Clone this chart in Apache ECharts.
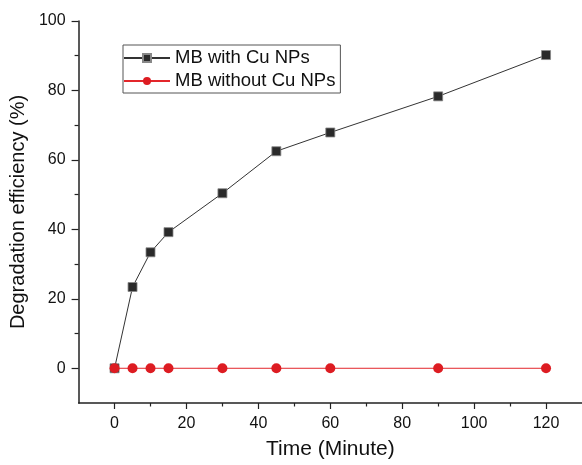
<!DOCTYPE html>
<html>
<head>
<meta charset="utf-8">
<script src="https://cdn.jsdelivr.net/npm/echarts@6/dist/echarts.min.js"></script>
<style>
  html, body { margin: 0; padding: 0; background: #fff; }
  #chart { width: 582px; height: 465px; }
</style>
</head>
<body>
<div id="chart"></div>
<script>
// Reaction time in minutes
const timeMinutes = [0, 5, 10, 15, 30, 45, 60, 90, 120];
// Degradation efficiency (%) of methylene blue
const withCuNPs = [0, 23.4, 33.4, 39.2, 50.4, 62.5, 67.9, 78.3, 90.2];
const withoutCuNPs = [0, 0, 0, 0, 0, 0, 0, 0, 0];

const seriesNames = ['MB with Cu NPs', 'MB without Cu NPs'];

// Axis ticks: labelled majors and unlabelled minors
const xMajorTicks = [0, 20, 40, 60, 80, 100, 120];
const xMinorTicks = [10, 30, 50, 70, 90, 110];
const yMajorTicks = [0, 20, 40, 60, 80, 100];
const yMinorTicks = [10, 30, 50, 70, 90];

const font = 'Arial, "Liberation Sans", sans-serif';
const axisColor = '#222';

const pairs = (xs, ys) => xs.map((x, i) => [x, ys[i]]);

const chart = echarts.init(document.getElementById('chart'), null, { renderer: 'canvas' });

const xBase = { type: 'value', min: -10, max: 130, gridIndex: 0, splitLine: { show: false } };
const yBase = { type: 'value', min: -10, max: 100, gridIndex: 0, splitLine: { show: false } };

chart.setOption({
  animation: false,
  backgroundColor: '#fff',
  grid: { left: 76, right: -1, top: 21, bottom: 59, containLabel: false },
  legend: {
    orient: 'vertical',
    left: 123,
    top: 45,
    padding: [3, 5, 2, 0],
    itemGap: 3,
    itemWidth: 46,
    itemHeight: 10,
    borderColor: '#555',
    borderWidth: 1,
    textStyle: { fontFamily: font, fontSize: 18.5, color: '#111', lineHeight: 20 },
    data: seriesNames
  },
  xAxis: [
    Object.assign({}, xBase, {
      position: 'bottom',
      name: 'Time (Minute)',
      nameLocation: 'middle',
      nameGap: 36,
      nameTextStyle: { fontFamily: font, fontSize: 21, color: '#111' },
      axisLine: { show: true, onZero: false, lineStyle: { color: axisColor, width: 1.5 } },
      axisTick: { show: true, inside: false, length: 6, customValues: xMajorTicks, lineStyle: { color: axisColor, width: 1.2 } },
      axisLabel: { show: true, margin: 13, customValues: xMajorTicks, fontFamily: font, fontSize: 16, color: '#111' }
    }),
    Object.assign({}, xBase, {
      position: 'bottom',
      axisLine: { show: false, onZero: false },
      axisTick: { show: true, inside: false, length: 3.5, customValues: xMinorTicks, lineStyle: { color: axisColor, width: 1.2 } },
      axisLabel: { show: false }
    })
  ],
  yAxis: [
    Object.assign({}, yBase, {
      position: 'left',
      name: 'Degradation efficiency (%)',
      nameLocation: 'middle',
      nameGap: 48,
      nameTextStyle: { fontFamily: font, fontSize: 20, color: '#111' },
      axisLine: { show: true, onZero: false, lineStyle: { color: axisColor, width: 1.5 } },
      axisTick: { show: true, inside: false, length: 7, customValues: yMajorTicks, lineStyle: { color: axisColor, width: 1.2 } },
      axisLabel: { show: true, margin: 13, customValues: yMajorTicks, fontFamily: font, fontSize: 16, color: '#111' }
    }),
    Object.assign({}, yBase, {
      position: 'left',
      axisLine: { show: false, onZero: false },
      axisTick: { show: true, inside: false, length: 4, customValues: yMinorTicks, lineStyle: { color: axisColor, width: 1.2 } },
      axisLabel: { show: false }
    })
  ],
  series: [
    {
      name: seriesNames[0],
      type: 'line',
      xAxisIndex: 0,
      yAxisIndex: 0,
      data: pairs(timeMinutes, withCuNPs),
      symbol: 'rect',
      symbolSize: 9,
      lineStyle: { color: '#333', width: 1 },
      itemStyle: { color: '#2a2a2a', borderColor: '#888', borderWidth: 0.8 },
      z: 2
    },
    {
      name: seriesNames[1],
      type: 'line',
      xAxisIndex: 0,
      yAxisIndex: 0,
      data: pairs(timeMinutes, withoutCuNPs),
      symbol: 'circle',
      symbolSize: 10,
      lineStyle: { color: '#e3262b', width: 1 },
      itemStyle: { color: '#dd1c22' },
      z: 3
    }
  ]
});
</script>
</body>
</html>
